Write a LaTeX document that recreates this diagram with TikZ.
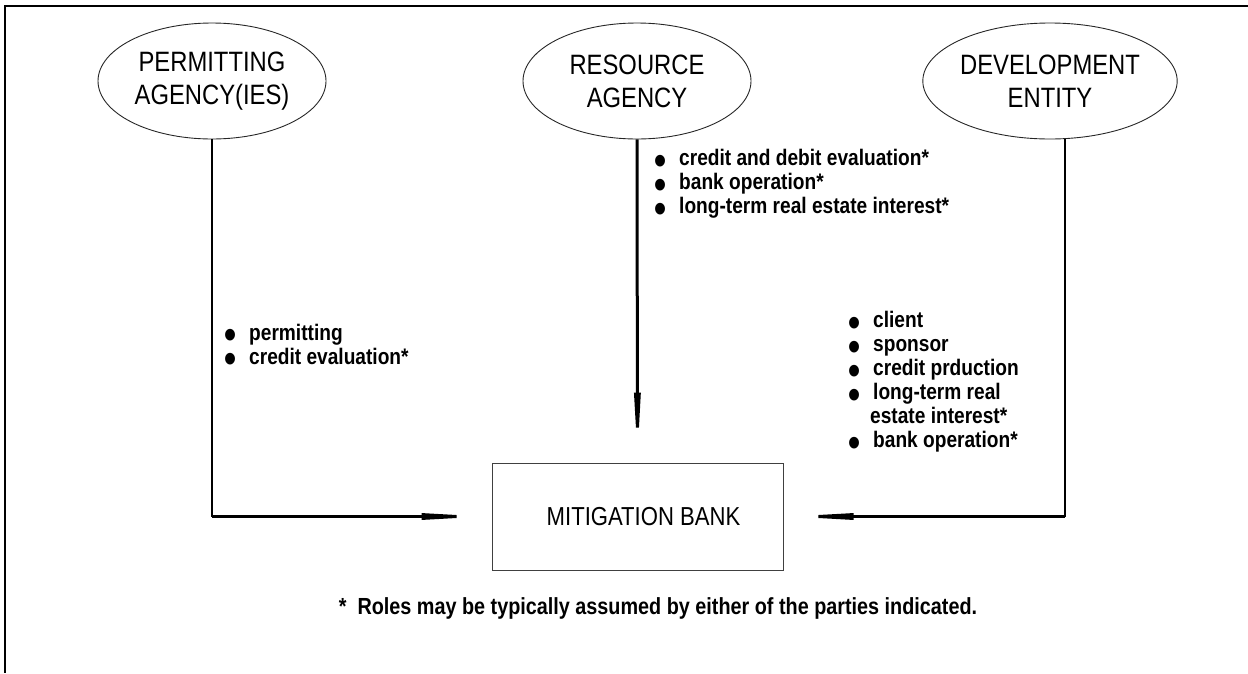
\documentclass[tikz,border=0pt]{standalone}
\usepackage{fontspec}
\setmainfont{Liberation Sans}[FakeStretch=0.85]
\usetikzlibrary{shapes.geometric,arrows.meta,calc}
\newcommand\rolebul{\makebox[25pt][l]{\smash{\raisebox{-8.5pt}{\scalebox{1.8}{\textbullet}}}}}
\begin{document}
\lineskiplimit=-100pt
\begin{tikzpicture}[x=1pt,y=-1pt,
  party/.style={ellipse,draw=black!85,line width=0.9pt,minimum width=228pt,minimum height=116pt,inner sep=0pt,align=center,font=\fontsize{28}{33}\selectfont},
  bankbox/.style={draw=black!75,line width=1pt,minimum width=291pt,minimum height=107pt,inner sep=0pt,font=\fontsize{26}{30}\selectfont},
  roles/.style={align=left,inner sep=0pt,font=\bfseries\fontsize{22.5}{24}\selectfont},
  thinlink/.style={line width=1.4pt},
  flow/.style={line width=3pt,-{Triangle[length=70pt,width=6pt]}},
  note/.style={inner sep=0pt,font=\bfseries\fontsize{23.3}{27}\selectfont}
]
\useasboundingbox (0,0) rectangle (1248,673);
% frame
\draw[line width=2.5pt] (4,6) -- (1248,6);
\draw[line width=1.5pt] (5,6) -- (5,673);
% parties
\node[party] (pa) at (212,81) {PERMITTING\\AGENCY(IES)};
\node[party] (ra) at (637,81) {RESOURCE\\AGENCY};
\node[party] (de) at (1050,81) {DEVELOPMENT\\ENTITY};
\node[bankbox] (mb) at (637.5,516.5) {\hspace*{12pt}MITIGATION BANK};
% connectors
\coordinate (lc) at (pa.south |- mb.west);
\draw[thinlink] (pa.south) -- (lc);
\draw[flow] (lc) -- (mb.west);
\draw[flow] (ra.south) -- (mb.north);
\coordinate (rt) at ([xshift=15pt]de.south);
\coordinate (rc) at (rt |- mb.east);
\draw[thinlink] (rt) -- (rc);
\draw[flow] (rc) -- (mb.east);
% role lists
\node[roles,anchor=west] (lr) at (654,184) {\rolebul credit and debit evaluation*\\\rolebul bank operation*\\\rolebul long-term real estate interest*};
\node[roles,anchor=west] (lp) at (224,344) {\rolebul permitting\\\rolebul credit evaluation*};
\node[roles,anchor=west] (ld) at (848,382) {\rolebul client\\\rolebul sponsor\\\rolebul credit prduction\\\rolebul long-term real\\\hspace*{22pt}estate interest*\\\rolebul bank operation*};
% footnote
\node[note] (fn) at (658,608) {*\ \ Roles may be typically assumed by either of the parties indicated.};
\end{tikzpicture}
\end{document}
